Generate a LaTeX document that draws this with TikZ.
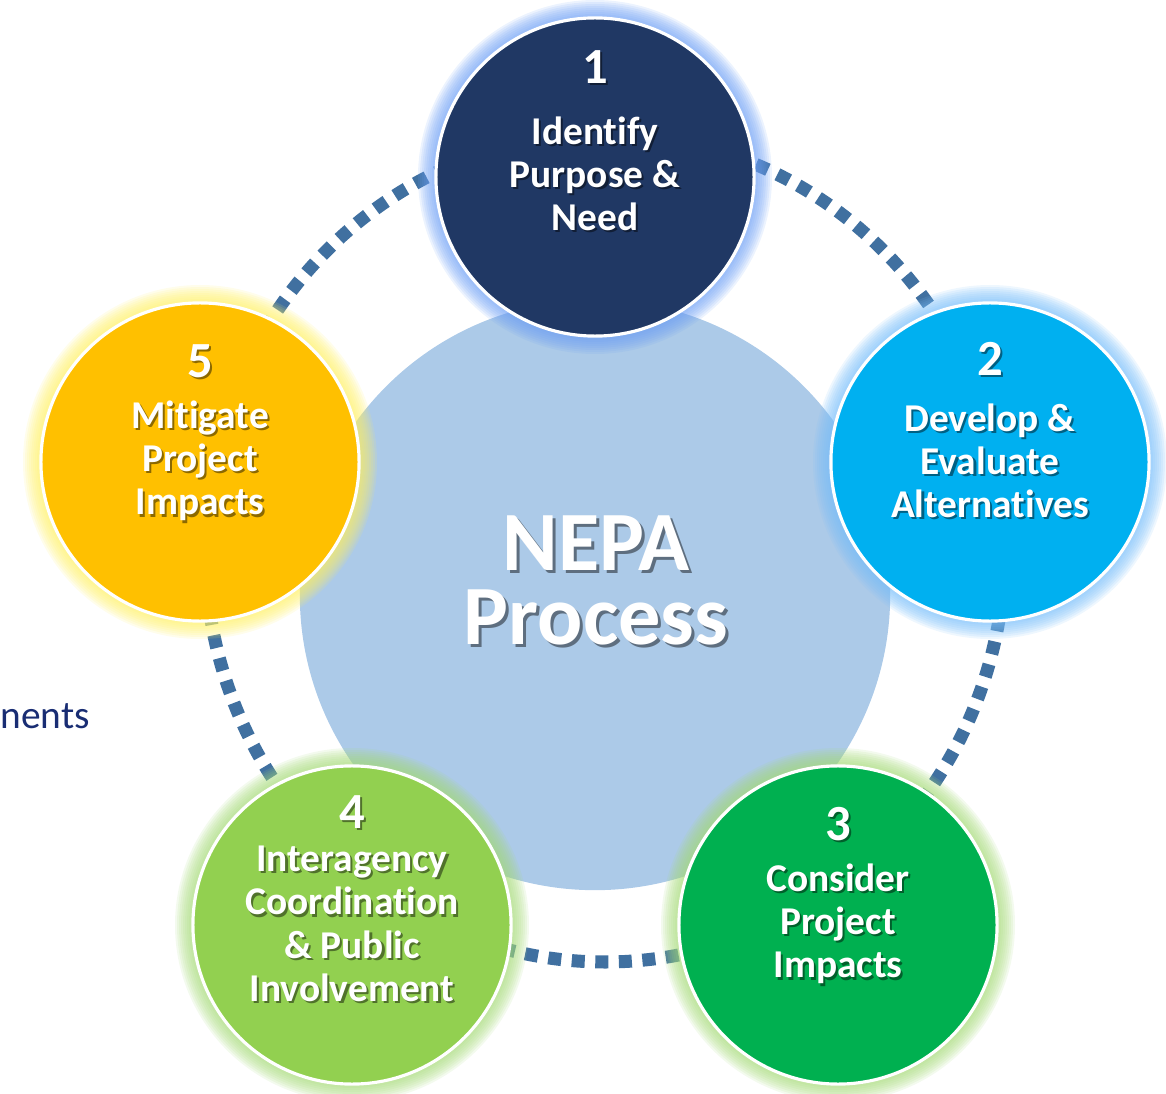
\documentclass[tikz,border=0pt]{standalone}
\usepackage{fontspec}
\setmainfont{Carlito}[Ligatures={NoCommon}]
\definecolor{c1}{RGB}{32,56,100}
\definecolor{c2}{RGB}{0,176,240}
\definecolor{c3}{RGB}{0,176,80}
\definecolor{c4}{RGB}{146,208,80}
\definecolor{c5}{RGB}{255,192,0}
\definecolor{g1}{RGB}{110,160,245}
\definecolor{g2}{RGB}{120,190,250}
\definecolor{g3}{RGB}{165,218,120}
\definecolor{g4}{RGB}{165,218,120}
\definecolor{g5}{RGB}{255,240,100}
\definecolor{bigc}{RGB}{172,202,232}
\definecolor{ringc}{RGB}{64,112,160}
\definecolor{navytext}{RGB}{25,45,115}
\newcommand\shd[1]{\leavevmode\rlap{\kern0.6pt\raisebox{-0.6pt}{\pgfsetfillopacity{0.45}\color{black}#1\pgfsetfillopacity{1}}}#1}
\newcommand\bigshd[1]{\leavevmode\rlap{\kern0.9pt\raisebox{-0.9pt}{\pgfsetfillopacity{0.45}\color{black}#1\pgfsetfillopacity{1}}}#1}
\begin{document}
\begin{tikzpicture}[x=0.01cm,y=-0.01cm,
  stepcircle/.style={circle, minimum size=3.18cm, inner sep=0pt, draw=white, line width=0.9pt},
  steptext/.style={text=white, align=center, inner sep=0pt, font=\fontsize{11.2}{12.3}\selectfont\bfseries},
  stepnum/.style={text=white, inner sep=0pt, font=\fontsize{14.4}{16}\selectfont\bfseries},
  bigtext/.style={text=white, align=center, inner sep=0pt, font=\fontsize{24}{21}\selectfont\bfseries}]
\useasboundingbox (0,0) rectangle (1166,1094);
% dotted ring
\draw[ringc, line width=3.7pt, line cap=butt, dash pattern=on 3.7pt off 3pt] (605,548) ellipse [x radius=400, y radius=414];
% big centre circle
\node[circle, fill=bigc, minimum size=5.9cm, inner sep=0pt] (big) at (595,595) {};
% step circles with glow
\foreach \n/\x/\y/\fc/\gc in {1/595/177/c1/g1, 2/990/462/c2/g2, 3/838/925/c3/g3, 4/352/925/c4/g4, 5/200/462/c5/g5} {
  \foreach \i in {1,...,9} \fill[\gc, opacity=0.13] (\x,\y) circle [radius={159+2*\i}];
  \node[stepcircle, fill=\fc] (s\n) at (\x,\y) {};
}
% centre text
\node[bigtext] (bigt) at (596,582) {\bigshd{NEPA}\\\bigshd{Process}};
% step numbers and labels
\foreach \n/\x/\ny/\ty/\txt in {
  1/595/68/175/{\shd{Identify}\\\shd{Purpose \&}\\\shd{Need}},
  2/990/360/462/{\shd{Develop \&}\\\shd{Evaluate}\\\shd{Alternatives}},
  3/838/825/925/{\shd{Consider}\\\shd{Project}\\\shd{Impacts}},
  4/352/813/925/{\shd{Interagency}\\\shd{Coordination}\\\shd{\& Public}\\\shd{Involvement}},
  5/200/362/462/{\shd{Mitigate}\\\shd{Project}\\\shd{Impacts}}} {
  \node[stepnum] (n\n) at (\x,\ny) {\shd{\n}};
  \node[steptext] (t\n) at (\x,\ty) {\txt};
}
% cut-off side text
\node[anchor=base west, inner sep=0pt, text=navytext, font=\fontsize{11.2}{13}\selectfont] (side) at (0,728) {nents};
\end{tikzpicture}
\end{document}
